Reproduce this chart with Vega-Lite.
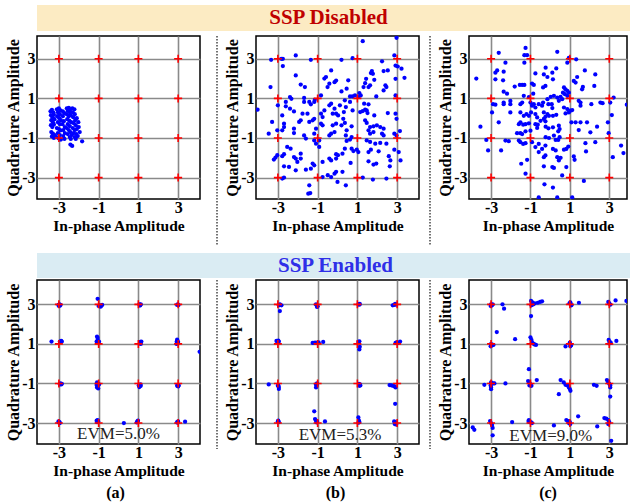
{
"$schema":"https://vega.github.io/schema/vega-lite/v6.json",
"padding":{"left":4,"top":5,"right":0,"bottom":0},
"background":"#ffffff",
"datasets":{
"ref":[{"x":-3,"y":-3},{"x":-3,"y":-1},{"x":-3,"y":1},{"x":-3,"y":3},{"x":-1,"y":-3},{"x":-1,"y":-1},{"x":-1,"y":1},{"x":-1,"y":3},{"x":1,"y":-3},{"x":1,"y":-1},{"x":1,"y":1},{"x":1,"y":3},{"x":3,"y":-3},{"x":3,"y":-1},{"x":3,"y":1},{"x":3,"y":3}],
"ta":[{"x":-3.42,"y":0.35},{"x":-3.35,"y":0.42},{"x":-3.28,"y":0.3},{"x":-3.4,"y":0.15},{"x":-3.32,"y":0.05},{"x":-3.25,"y":0.18},{"x":-3.38,"y":-0.1},{"x":-3.3,"y":-0.2},{"x":-3.22,"y":-0.05},{"x":-3.4,"y":-0.35},{"x":-3.33,"y":-0.45},{"x":-3.25,"y":-0.32},{"x":-3.38,"y":-0.7},{"x":-3.3,"y":-0.78},{"x":-3.2,"y":-0.85},{"x":-3.35,"y":-0.92},{"x":-3.25,"y":-1.0},{"x":-3.12,"y":-0.95},{"x":-3.1,"y":0.45},{"x":-3.0,"y":0.5},{"x":-2.92,"y":0.4},{"x":-3.05,"y":0.3},{"x":-2.95,"y":0.2},{"x":-3.08,"y":0.1},{"x":-2.98,"y":0.0},{"x":-2.9,"y":-0.1},{"x":-3.05,"y":-0.2},{"x":-2.95,"y":-0.3},{"x":-3.1,"y":-0.5},{"x":-3.0,"y":-0.55},{"x":-2.92,"y":-0.62},{"x":-3.05,"y":-0.75},{"x":-2.95,"y":-0.85},{"x":-3.0,"y":-1.02},{"x":-2.9,"y":-1.08},{"x":-2.8,"y":0.35},{"x":-2.72,"y":0.25},{"x":-2.8,"y":0.1},{"x":-2.75,"y":-0.15},{"x":-2.82,"y":-0.3},{"x":-2.7,"y":-0.45},{"x":-2.78,"y":-0.6},{"x":-2.7,"y":-0.75},{"x":-2.78,"y":-0.9},{"x":-2.72,"y":-1.05},{"x":-2.6,"y":0.5},{"x":-2.5,"y":0.52},{"x":-2.42,"y":0.45},{"x":-2.55,"y":0.38},{"x":-2.45,"y":0.3},{"x":-2.6,"y":0.2},{"x":-2.5,"y":0.1},{"x":-2.4,"y":0.15},{"x":-2.58,"y":-0.05},{"x":-2.48,"y":-0.12},{"x":-2.38,"y":-0.2},{"x":-2.55,"y":-0.3},{"x":-2.45,"y":-0.4},{"x":-2.6,"y":-0.5},{"x":-2.5,"y":-0.6},{"x":-2.42,"y":-0.7},{"x":-2.55,"y":-0.8},{"x":-2.45,"y":-0.95},{"x":-2.35,"y":-0.85},{"x":-2.4,"y":-1.05},{"x":-2.32,"y":0.5},{"x":-2.22,"y":0.45},{"x":-2.3,"y":0.3},{"x":-2.2,"y":0.2},{"x":-2.28,"y":0.05},{"x":-2.18,"y":-0.1},{"x":-2.25,"y":-0.25},{"x":-2.15,"y":-0.35},{"x":-2.3,"y":-0.5},{"x":-2.2,"y":-0.6},{"x":-2.1,"y":-0.55},{"x":-2.25,"y":-0.75},{"x":-2.12,"y":-0.8},{"x":-2.2,"y":-0.95},{"x":-2.05,"y":-0.9},{"x":-2.15,"y":-1.05},{"x":-2.0,"y":-0.45},{"x":-1.95,"y":-0.7},{"x":-2.02,"y":-0.2},{"x":-2.1,"y":0.0},{"x":-2.42,"y":-1.33},{"x":-2.33,"y":-1.4},{"x":-1.83,"y":-1.17}],
"tb":[{"x":-3.34,"y":2.95},{"x":-2.83,"y":3.0},{"x":-2.75,"y":3.0},{"x":-2.75,"y":2.63},{"x":-2.1,"y":3.17},{"x":-1.34,"y":2.95},{"x":-3.37,"y":1.57},{"x":-2.1,"y":2.16},{"x":-1.85,"y":1.7},{"x":-1.64,"y":1.57},{"x":-0.32,"y":2.41},{"x":-0.58,"y":2.08},{"x":-0.66,"y":2.0},{"x":-0.41,"y":1.74},{"x":-0.15,"y":1.82},{"x":-0.07,"y":1.9},{"x":-0.5,"y":1.57},{"x":-0.83,"y":1.15},{"x":-4.02,"y":0.43},{"x":-3.0,"y":0.65},{"x":-2.6,"y":0.82},{"x":-2.39,"y":1.07},{"x":-2.32,"y":0.98},{"x":-2.6,"y":0.6},{"x":-2.39,"y":0.48},{"x":-2.19,"y":0.34},{"x":-1.68,"y":1.02},{"x":-1.68,"y":0.82},{"x":-1.42,"y":0.82},{"x":-1.34,"y":0.7},{"x":-1.17,"y":0.82},{"x":-1.14,"y":0.93},{"x":-2.78,"y":0.14},{"x":-3.29,"y":-0.19},{"x":-2.69,"y":-0.28},{"x":-2.69,"y":-0.45},{"x":-2.78,"y":-0.61},{"x":-2.19,"y":-0.53},{"x":-2.19,"y":-0.75},{"x":-3.46,"y":-0.78},{"x":-3.03,"y":-0.61},{"x":-1.93,"y":-0.19},{"x":-1.85,"y":-0.11},{"x":-1.76,"y":0.23},{"x":-1.42,"y":-0.19},{"x":-1.51,"y":0.23},{"x":-1.25,"y":-0.11},{"x":-1.17,"y":-0.03},{"x":-0.83,"y":0.23},{"x":-0.75,"y":0.06},{"x":-0.66,"y":0.39},{"x":-0.32,"y":0.73},{"x":-0.41,"y":0.65},{"x":-0.15,"y":0.48},{"x":-0.24,"y":0.23},{"x":-0.07,"y":0.23},{"x":-0.83,"y":-0.28},{"x":-0.75,"y":-0.36},{"x":-0.24,"y":-0.36},{"x":-0.07,"y":-0.28},{"x":-1.08,"y":-0.53},{"x":-1.17,"y":-0.78},{"x":-0.41,"y":-0.87},{"x":-0.32,"y":-0.78},{"x":-0.15,"y":-0.7},{"x":-1.68,"y":-0.87},{"x":-1.59,"y":-1.03},{"x":-1.17,"y":-1.12},{"x":-0.92,"y":-1.12},{"x":-1.08,"y":-1.29},{"x":-0.92,"y":-1.45},{"x":-2.53,"y":-1.45},{"x":-2.36,"y":-1.54},{"x":-1.85,"y":-1.79},{"x":-2.69,"y":-1.82},{"x":-2.78,"y":-1.92},{"x":-3.2,"y":-2.09},{"x":-3.12,"y":-1.99},{"x":-3.03,"y":-1.87},{"x":-2.19,"y":-1.96},{"x":-2.1,"y":-2.04},{"x":-2.02,"y":-2.21},{"x":-1.85,"y":-2.04},{"x":-2.69,"y":-2.43},{"x":-2.44,"y":-2.46},{"x":-2.1,"y":-2.63},{"x":-1.59,"y":-2.6},{"x":-1.34,"y":-2.55},{"x":-1.25,"y":-2.29},{"x":-1.17,"y":-2.38},{"x":-0.75,"y":-2.21},{"x":-0.41,"y":-2.04},{"x":-0.32,"y":-2.13},{"x":-0.07,"y":-2.04},{"x":-0.07,"y":-1.82},{"x":0.02,"y":-1.87},{"x":-0.49,"y":-2.88},{"x":-0.32,"y":-2.97},{"x":-0.15,"y":-2.8},{"x":-0.07,"y":-2.71},{"x":-2.78,"y":-3.05},{"x":-2.69,"y":-3.0},{"x":-0.75,"y":-2.97},{"x":-1.42,"y":-3.39},{"x":-1.37,"y":-3.78},{"x":-1.47,"y":-3.81},{"x":0.0,"y":-3.22},{"x":1.27,"y":3.89},{"x":2.97,"y":4.06},{"x":0.2,"y":2.95},{"x":0.76,"y":3.03},{"x":2.24,"y":2.87},{"x":2.86,"y":3.17},{"x":2.92,"y":2.66},{"x":3.03,"y":2.61},{"x":3.22,"y":2.5},{"x":3.37,"y":2.04},{"x":1.73,"y":2.38},{"x":1.68,"y":2.28},{"x":1.78,"y":2.24},{"x":2.32,"y":2.38},{"x":2.53,"y":2.41},{"x":1.44,"y":1.99},{"x":1.39,"y":1.77},{"x":1.31,"y":1.57},{"x":1.64,"y":1.66},{"x":1.56,"y":1.57},{"x":1.85,"y":1.94},{"x":2.41,"y":1.66},{"x":2.46,"y":1.57},{"x":2.32,"y":1.4},{"x":2.92,"y":1.99},{"x":2.92,"y":1.15},{"x":0.2,"y":1.35},{"x":0.54,"y":1.91},{"x":0.46,"y":1.49},{"x":0.63,"y":1.1},{"x":0.76,"y":1.1},{"x":0.88,"y":1.15},{"x":1.1,"y":1.27},{"x":1.17,"y":1.15},{"x":1.05,"y":1.07},{"x":1.95,"y":1.1},{"x":0.37,"y":0.9},{"x":0.63,"y":0.82},{"x":0.12,"y":0.65},{"x":0.42,"y":0.56},{"x":0.76,"y":0.39},{"x":0.32,"y":0.31},{"x":0.03,"y":0.14},{"x":1.34,"y":0.73},{"x":1.56,"y":0.7},{"x":1.14,"y":0.31},{"x":1.27,"y":0.36},{"x":1.39,"y":0.43},{"x":1.47,"y":0.39},{"x":1.51,"y":0.26},{"x":1.85,"y":0.14},{"x":2.53,"y":0.26},{"x":2.92,"y":0.23},{"x":2.97,"y":-0.03},{"x":0.29,"y":-0.03},{"x":0.37,"y":-0.24},{"x":0.2,"y":-0.36},{"x":0.71,"y":-0.41},{"x":0.46,"y":-0.61},{"x":1.39,"y":-0.11},{"x":1.47,"y":-0.24},{"x":1.64,"y":-0.45},{"x":1.81,"y":-0.41},{"x":1.98,"y":-0.36},{"x":2.15,"y":-0.45},{"x":2.32,"y":-0.53},{"x":1.56,"y":-0.61},{"x":1.64,"y":-0.78},{"x":1.81,"y":-0.7},{"x":2.24,"y":-0.78},{"x":2.32,"y":-0.87},{"x":2.86,"y":-0.78},{"x":2.97,"y":-0.87},{"x":3.14,"y":-0.65},{"x":0.42,"y":-0.87},{"x":0.63,"y":-1.08},{"x":0.46,"y":-1.15},{"x":0.71,"y":-0.95},{"x":1.47,"y":-1.12},{"x":1.64,"y":-1.2},{"x":1.9,"y":-1.29},{"x":2.15,"y":-1.25},{"x":2.46,"y":-1.29},{"x":0.71,"y":-1.54},{"x":0.8,"y":-1.66},{"x":0.97,"y":-1.59},{"x":1.05,"y":-1.71},{"x":1.56,"y":-1.71},{"x":1.68,"y":-1.59},{"x":2.07,"y":-1.67},{"x":2.86,"y":-1.59},{"x":3.08,"y":-1.71},{"x":2.58,"y":-1.92},{"x":2.66,"y":-2.13},{"x":2.63,"y":-2.43},{"x":3.17,"y":-2.13},{"x":0.37,"y":-1.54},{"x":0.25,"y":-1.79},{"x":0.66,"y":-2.26},{"x":1.56,"y":-2.18},{"x":1.81,"y":-2.34},{"x":1.95,"y":-2.29},{"x":0.25,"y":-2.71},{"x":0.42,"y":-3.39},{"x":1.27,"y":-3.0},{"x":1.78,"y":-3.1},{"x":2.46,"y":-3.05}],
"tc":[{"x":-3.75,"y":2.0},{"x":-2.61,"y":3.3},{"x":-2.27,"y":2.8},{"x":-1.25,"y":3.55},{"x":-1.31,"y":3.18},{"x":-1.17,"y":3.18},{"x":-1.31,"y":2.8},{"x":-2.78,"y":2.3},{"x":-2.69,"y":2.41},{"x":-2.78,"y":1.96},{"x":-2.36,"y":2.35},{"x":-2.39,"y":1.91},{"x":-1.8,"y":1.6},{"x":-1.54,"y":1.68},{"x":-1.42,"y":1.68},{"x":-1.31,"y":1.68},{"x":-2.36,"y":1.34},{"x":-2.19,"y":1.24},{"x":-0.75,"y":2.26},{"x":-0.32,"y":2.21},{"x":-0.92,"y":1.75},{"x":-0.83,"y":1.68},{"x":-0.36,"y":1.55},{"x":-0.24,"y":1.63},{"x":-1.34,"y":1.13},{"x":-1.08,"y":1.07},{"x":-0.86,"y":1.24},{"x":-2.9,"y":0.71},{"x":-2.78,"y":0.68},{"x":-2.36,"y":0.79},{"x":-2.36,"y":0.71},{"x":-2.02,"y":0.87},{"x":-2.02,"y":0.71},{"x":-1.51,"y":0.71},{"x":-1.42,"y":0.79},{"x":-1.0,"y":0.79},{"x":-0.92,"y":0.63},{"x":-0.83,"y":0.71},{"x":-0.75,"y":0.54},{"x":-0.58,"y":0.71},{"x":-0.41,"y":0.63},{"x":-0.36,"y":0.79},{"x":-2.95,"y":0.29},{"x":-2.02,"y":0.29},{"x":-1.51,"y":0.29},{"x":-1.34,"y":0.12},{"x":-1.2,"y":0.21},{"x":-1.08,"y":0.12},{"x":-0.97,"y":0.29},{"x":-0.75,"y":0.21},{"x":-0.66,"y":0.04},{"x":-0.32,"y":0.29},{"x":-0.24,"y":0.07},{"x":-3.54,"y":-0.43},{"x":-2.61,"y":-0.21},{"x":-1.59,"y":-0.3},{"x":-1.51,"y":-0.21},{"x":-1.37,"y":-0.33},{"x":-1.25,"y":-0.3},{"x":-1.08,"y":-0.26},{"x":-0.75,"y":-0.3},{"x":-0.63,"y":-0.33},{"x":-0.49,"y":-0.13},{"x":-0.32,"y":-0.04},{"x":-0.24,"y":-0.16},{"x":-1.68,"y":-0.76},{"x":-1.51,"y":-0.76},{"x":-1.42,"y":-0.8},{"x":-1.25,"y":-0.66},{"x":-1.0,"y":-0.63},{"x":-0.66,"y":-0.49},{"x":-3.24,"y":-1.1},{"x":-3.15,"y":-1.63},{"x":-2.49,"y":-1.63},{"x":-2.27,"y":-1.13},{"x":-2.1,"y":-1.16},{"x":-1.59,"y":-1.13},{"x":-1.51,"y":-1.21},{"x":-1.37,"y":-1.3},{"x":-1.25,"y":-1.26},{"x":-0.92,"y":-1.21},{"x":-0.58,"y":-1.3},{"x":-0.24,"y":-1.38},{"x":-0.75,"y":-1.46},{"x":-0.58,"y":-1.71},{"x":-0.41,"y":-1.55},{"x":-0.24,"y":-1.88},{"x":-1.17,"y":-2.1},{"x":-1.47,"y":-2.3},{"x":-0.32,"y":-1.97},{"x":-0.32,"y":-2.43},{"x":-1.25,"y":-2.8},{"x":-0.29,"y":-3.34},{"x":-0.58,"y":-4.0},{"x":0.36,"y":3.35},{"x":0.87,"y":2.8},{"x":0.95,"y":3.05},{"x":1.32,"y":2.97},{"x":-0.23,"y":2.55},{"x":0.31,"y":2.51},{"x":-0.14,"y":2.08},{"x":0.11,"y":2.3},{"x":0.14,"y":1.96},{"x":1.76,"y":2.41},{"x":2.29,"y":2.21},{"x":1.2,"y":1.88},{"x":1.37,"y":2.08},{"x":1.29,"y":1.8},{"x":1.66,"y":1.58},{"x":1.62,"y":1.46},{"x":2.24,"y":1.63},{"x":0.7,"y":1.55},{"x":0.78,"y":1.46},{"x":0.87,"y":1.38},{"x":0.65,"y":1.29},{"x":0.75,"y":1.21},{"x":0.87,"y":1.13},{"x":0.95,"y":1.29},{"x":0.03,"y":1.08},{"x":0.19,"y":1.13},{"x":0.36,"y":1.04},{"x":0.53,"y":1.08},{"x":0.61,"y":0.96},{"x":0.44,"y":0.88},{"x":-0.14,"y":0.96},{"x":-0.09,"y":0.71},{"x":0.08,"y":0.71},{"x":0.11,"y":0.51},{"x":0.7,"y":0.54},{"x":0.87,"y":0.46},{"x":1.03,"y":0.38},{"x":1.12,"y":0.41},{"x":0.95,"y":0.29},{"x":0.78,"y":0.24},{"x":1.45,"y":0.88},{"x":1.54,"y":0.79},{"x":1.54,"y":0.63},{"x":2.09,"y":0.71},{"x":2.55,"y":0.79},{"x":2.66,"y":0.76},{"x":3.05,"y":0.79},{"x":3.22,"y":1.04},{"x":3.89,"y":0.68},{"x":3.13,"y":0.16},{"x":-0.14,"y":0.21},{"x":-0.06,"y":0.12},{"x":0.14,"y":0.12},{"x":0.31,"y":0.17},{"x":1.08,"y":-0.21},{"x":1.29,"y":-0.21},{"x":1.54,"y":-0.21},{"x":1.87,"y":-0.21},{"x":2.38,"y":-0.43},{"x":2.93,"y":-0.21},{"x":2.97,"y":-0.76},{"x":-0.23,"y":-0.43},{"x":-0.09,"y":-0.51},{"x":0.14,"y":-0.46},{"x":0.44,"y":-0.38},{"x":0.48,"y":-0.55},{"x":0.41,"y":-0.66},{"x":1.45,"y":-0.6},{"x":2.04,"y":-0.71},{"x":-0.23,"y":-0.96},{"x":-0.06,"y":-1.0},{"x":0.19,"y":-0.88},{"x":0.28,"y":-1.1},{"x":0.41,"y":-1.1},{"x":0.48,"y":-0.96},{"x":1.79,"y":-1.26},{"x":2.29,"y":-1.21},{"x":3.6,"y":-1.38},{"x":3.72,"y":-1.76},{"x":3.18,"y":-1.97},{"x":0.14,"y":-1.55},{"x":0.28,"y":-1.63},{"x":0.7,"y":-1.59},{"x":0.82,"y":-1.55},{"x":0.92,"y":-1.43},{"x":1.82,"y":-1.68},{"x":0.36,"y":-1.97},{"x":0.53,"y":-2.0},{"x":0.44,"y":-2.13},{"x":1.2,"y":-1.93},{"x":1.24,"y":-2.1},{"x":0.11,"y":-2.47},{"x":0.19,"y":-2.51},{"x":0.82,"y":-2.47},{"x":0.61,"y":-2.89},{"x":1.71,"y":-3.17},{"x":0.14,"y":-3.5},{"x":0.36,"y":-4.0},{"x":1.12,"y":-4.0}],
"ba":[{"x":-3.02,"y":2.97},{"x":-2.95,"y":2.93},{"x":-2.97,"y":3.0},{"x":-2.92,"y":2.97},{"x":-3.0,"y":2.92},{"x":-1.0,"y":2.92},{"x":-0.95,"y":2.95},{"x":-0.88,"y":2.92},{"x":-0.82,"y":2.97},{"x":-0.9,"y":2.88},{"x":-1.05,"y":3.28},{"x":1.05,"y":3.0},{"x":1.1,"y":2.97},{"x":1.12,"y":3.0},{"x":1.08,"y":2.94},{"x":2.98,"y":3.0},{"x":3.02,"y":2.96},{"x":2.95,"y":2.97},{"x":-2.95,"y":1.12},{"x":-2.88,"y":1.15},{"x":-2.92,"y":1.1},{"x":-2.85,"y":1.12},{"x":-3.37,"y":1.12},{"x":-1.08,"y":1.37},{"x":-1.05,"y":1.3},{"x":-1.05,"y":1.18},{"x":-1.1,"y":1.12},{"x":-0.98,"y":1.12},{"x":-1.02,"y":1.08},{"x":1.1,"y":1.1},{"x":1.15,"y":1.12},{"x":1.08,"y":1.03},{"x":1.12,"y":1.0},{"x":2.95,"y":1.22},{"x":2.93,"y":1.12},{"x":2.97,"y":1.05},{"x":3.0,"y":1.1},{"x":2.92,"y":1.0},{"x":4.08,"y":0.6},{"x":-2.92,"y":-1.0},{"x":-2.88,"y":-1.05},{"x":-2.95,"y":-1.05},{"x":-2.85,"y":-1.02},{"x":-1.08,"y":-0.95},{"x":-1.05,"y":-1.02},{"x":-1.1,"y":-1.08},{"x":-1.05,"y":-1.15},{"x":-1.08,"y":-1.2},{"x":-1.02,"y":-1.25},{"x":-0.98,"y":-1.05},{"x":1.02,"y":-1.1},{"x":1.08,"y":-1.13},{"x":1.12,"y":-1.12},{"x":1.05,"y":-1.18},{"x":1.1,"y":-1.05},{"x":2.95,"y":-1.12},{"x":3.0,"y":-1.15},{"x":2.97,"y":-1.08},{"x":3.03,"y":-1.1},{"x":-3.0,"y":-2.97},{"x":-2.95,"y":-3.0},{"x":-3.02,"y":-2.92},{"x":-2.97,"y":-2.95},{"x":-1.1,"y":-2.88},{"x":-1.05,"y":-2.85},{"x":-1.08,"y":-2.95},{"x":-1.02,"y":-2.92},{"x":0.27,"y":-3.0},{"x":0.95,"y":-2.92},{"x":0.92,"y":-2.97},{"x":0.98,"y":-2.88},{"x":2.95,"y":-2.95},{"x":3.0,"y":-2.92},{"x":2.97,"y":-2.98},{"x":3.35,"y":-2.93}],
"bb":[{"x":-2.95,"y":2.95},{"x":-2.88,"y":2.97},{"x":-2.82,"y":2.95},{"x":-2.9,"y":3.0},{"x":-2.9,"y":2.66},{"x":-1.08,"y":3.0},{"x":-1.03,"y":2.87},{"x":-1.05,"y":2.95},{"x":-1.0,"y":2.9},{"x":1.05,"y":3.0},{"x":1.1,"y":2.98},{"x":1.12,"y":3.02},{"x":2.78,"y":2.95},{"x":2.85,"y":2.97},{"x":2.9,"y":3.02},{"x":2.95,"y":2.98},{"x":-3.07,"y":1.15},{"x":-2.98,"y":1.17},{"x":-2.95,"y":1.12},{"x":-3.02,"y":1.1},{"x":-1.25,"y":1.05},{"x":-1.18,"y":1.05},{"x":-1.12,"y":1.07},{"x":-1.05,"y":1.05},{"x":-0.95,"y":1.08},{"x":-0.72,"y":1.1},{"x":1.05,"y":1.1},{"x":1.1,"y":1.13},{"x":1.12,"y":0.85},{"x":1.1,"y":0.72},{"x":2.92,"y":1.05},{"x":2.98,"y":1.08},{"x":3.05,"y":1.05},{"x":3.15,"y":1.12},{"x":-3.46,"y":-1.05},{"x":-2.98,"y":-1.1},{"x":-2.95,"y":-1.18},{"x":-2.95,"y":-1.28},{"x":-3.0,"y":-1.12},{"x":-1.08,"y":-1.05},{"x":-1.05,"y":-1.12},{"x":-1.08,"y":-1.2},{"x":-1.03,"y":-1.0},{"x":1.08,"y":-1.02},{"x":1.12,"y":-1.05},{"x":1.15,"y":-1.1},{"x":1.1,"y":-1.12},{"x":2.62,"y":-1.08},{"x":2.72,"y":-1.1},{"x":2.8,"y":-1.12},{"x":2.88,"y":-1.15},{"x":2.92,"y":-1.2},{"x":2.9,"y":-2.03},{"x":-2.98,"y":-2.88},{"x":-2.95,"y":-2.95},{"x":-3.0,"y":-2.92},{"x":-1.17,"y":-2.41},{"x":-1.13,"y":-2.8},{"x":-1.08,"y":-2.88},{"x":-1.03,"y":-2.92},{"x":-1.05,"y":-2.97},{"x":-0.63,"y":-2.92},{"x":1.05,"y":-2.72},{"x":1.08,"y":-2.88},{"x":1.1,"y":-2.95},{"x":1.05,"y":-2.98},{"x":2.85,"y":-2.92},{"x":2.92,"y":-2.95},{"x":2.88,"y":-3.05},{"x":2.95,"y":-3.08}],
"bc":[{"x":-3.0,"y":3.0},{"x":-2.95,"y":2.95},{"x":-2.92,"y":3.0},{"x":-3.02,"y":2.92},{"x":-2.42,"y":3.0},{"x":-2.34,"y":2.78},{"x":-0.97,"y":3.17},{"x":-0.9,"y":3.1},{"x":-0.85,"y":3.0},{"x":-0.78,"y":3.05},{"x":-0.95,"y":2.95},{"x":-0.63,"y":3.08},{"x":-0.51,"y":3.12},{"x":-0.41,"y":3.15},{"x":-0.97,"y":2.41},{"x":0.98,"y":3.05},{"x":1.05,"y":3.0},{"x":1.08,"y":2.95},{"x":1.02,"y":3.1},{"x":1.46,"y":3.08},{"x":2.95,"y":3.12},{"x":3.0,"y":3.05},{"x":3.05,"y":2.98},{"x":3.32,"y":3.2},{"x":3.87,"y":3.17},{"x":-3.0,"y":1.0},{"x":-2.95,"y":0.92},{"x":-2.88,"y":0.95},{"x":-3.02,"y":0.88},{"x":-2.71,"y":1.6},{"x":-1.78,"y":1.24},{"x":-1.0,"y":1.33},{"x":-0.95,"y":1.2},{"x":-0.92,"y":1.08},{"x":-0.85,"y":1.02},{"x":-0.8,"y":0.97},{"x":-0.72,"y":0.95},{"x":0.78,"y":0.87},{"x":1.0,"y":1.07},{"x":1.03,"y":0.95},{"x":1.02,"y":0.88},{"x":1.06,"y":0.92},{"x":2.97,"y":1.2},{"x":3.02,"y":1.12},{"x":3.08,"y":1.05},{"x":3.0,"y":1.02},{"x":3.36,"y":1.15},{"x":-3.34,"y":-1.07},{"x":-3.0,"y":-0.95},{"x":-2.9,"y":-1.0},{"x":-2.83,"y":-1.0},{"x":-3.02,"y":-1.1},{"x":-3.0,"y":-1.2},{"x":-3.0,"y":-1.29},{"x":-2.27,"y":-1.0},{"x":-1.08,"y":-0.28},{"x":-1.12,"y":-0.88},{"x":-1.05,"y":-0.97},{"x":-1.0,"y":-1.05},{"x":-0.95,"y":-1.12},{"x":-1.05,"y":-1.1},{"x":-0.68,"y":-0.83},{"x":0.44,"y":-1.54},{"x":0.53,"y":-0.83},{"x":0.69,"y":-0.95},{"x":0.78,"y":-1.07},{"x":0.88,"y":-1.1},{"x":0.95,"y":-1.2},{"x":1.0,"y":-1.28},{"x":1.03,"y":-1.37},{"x":2.22,"y":-1.07},{"x":2.36,"y":-1.12},{"x":2.88,"y":-0.83},{"x":2.95,"y":-0.95},{"x":3.0,"y":-1.02},{"x":3.05,"y":-1.1},{"x":3.05,"y":-1.2},{"x":3.05,"y":-1.66},{"x":-3.93,"y":-3.22},{"x":-3.85,"y":-3.34},{"x":-3.0,"y":-3.0},{"x":-3.05,"y":-2.9},{"x":-2.95,"y":-3.1},{"x":-2.92,"y":-3.25},{"x":-2.92,"y":-3.62},{"x":-1.93,"y":-2.95},{"x":-1.1,"y":-2.9},{"x":-1.05,"y":-2.95},{"x":-0.98,"y":-2.95},{"x":-0.92,"y":-3.0},{"x":-1.08,"y":-2.85},{"x":0.19,"y":-3.12},{"x":0.82,"y":-2.85},{"x":0.92,"y":-2.9},{"x":1.0,"y":-2.95},{"x":1.02,"y":-3.05},{"x":0.95,"y":-3.0},{"x":1.42,"y":-2.66},{"x":2.75,"y":-2.75},{"x":2.85,"y":-2.78},{"x":2.95,"y":-2.85},{"x":3.0,"y":-2.95},{"x":2.95,"y":-3.05},{"x":2.39,"y":-3.17},{"x":3.1,"y":-3.9}],
"evma":[{"t":"EVM=5.0%"}],
"evmb":[{"t":"EVM=5.3%"}],
"evmc":[{"t":"EVM=9.0%"}]
},
"spacing":4,
"vconcat":[
 {"width":593,"height":26,"view":{"fill":"#FCEBC3","stroke":null},"data":{"values":[{"t":"SSP Disabled"}]},"mark":{"type":"text","font":"Liberation Serif","fontWeight":"bold","fontSize":21,"color":"#C00000","dx":-5},"encoding":{"text":{"field":"t","type":"nominal"}}},
 {"spacing":6,"vconcat":[
  {"spacing":15,"hconcat":[
    {"width":163,"height":163,"layer":[
      {"data":{"name":"ta"},"mark":{"type":"circle","color":"#0000FF","size":18,"opacity":1,"clip":true},"encoding":{"x":{"field":"x","type":"quantitative","scale":{"domain":[-4.1,4.1],"nice":false,"zero":false},"axis":{"values":[-3,-1,1,3],"grid":true},"title":"In-phase Amplitude"},"y":{"field":"y","type":"quantitative","scale":{"domain":[-4.08,4.15],"nice":false,"zero":false},"axis":{"values":[-3,-1,1,3],"grid":true},"title":"Quadrature Amplitude"}}},
      {"data":{"name":"ref"},"mark":{"type":"point","shape":"M-1,0H1M0,-1V1","size":64,"color":"#FF0000","strokeWidth":1.6,"filled":false,"opacity":1,"clip":true},"encoding":{"x":{"field":"x","type":"quantitative"},"y":{"field":"y","type":"quantitative"}}}
    ]},
    {"spacing":9,"hconcat":[
      {"spacing":5,"hconcat":[
        {"width":1,"height":210,"view":{"stroke":null},"data":{"values":[{}]},"mark":{"type":"rule","color":"#444444","strokeWidth":1.5,"strokeDash":[1.5,1.5]},"encoding":{"x":{"datum":0,"type":"quantitative","scale":{"domain":[0,1]},"axis":null}}},
        {"width":163,"height":163,"layer":[
          {"data":{"name":"tb"},"mark":{"type":"circle","color":"#0000FF","size":18,"opacity":1,"clip":true},"encoding":{"x":{"field":"x","type":"quantitative","scale":{"domain":[-4.1,4.1],"nice":false,"zero":false},"axis":{"values":[-3,-1,1,3],"grid":true},"title":"In-phase Amplitude"},"y":{"field":"y","type":"quantitative","scale":{"domain":[-4.08,4.15],"nice":false,"zero":false},"axis":{"values":[-3,-1,1,3],"grid":true},"title":"Quadrature Amplitude"}}},
          {"data":{"name":"ref"},"mark":{"type":"point","shape":"M-1,0H1M0,-1V1","size":64,"color":"#FF0000","strokeWidth":1.6,"filled":false,"opacity":1,"clip":true},"encoding":{"x":{"field":"x","type":"quantitative"},"y":{"field":"y","type":"quantitative"}}}
        ]}
      ]},
      {"spacing":5,"hconcat":[
        {"width":1,"height":210,"view":{"stroke":null},"data":{"values":[{}]},"mark":{"type":"rule","color":"#444444","strokeWidth":1.5,"strokeDash":[1.5,1.5]},"encoding":{"x":{"datum":0,"type":"quantitative","scale":{"domain":[0,1]},"axis":null}}},
        {"width":158,"height":163,"layer":[
          {"data":{"name":"tc"},"mark":{"type":"circle","color":"#0000FF","size":18,"opacity":1,"clip":true},"encoding":{"x":{"field":"x","type":"quantitative","scale":{"domain":[-4.12,3.9],"nice":false,"zero":false},"axis":{"values":[-3,-1,1,3],"grid":true},"title":"In-phase Amplitude"},"y":{"field":"y","type":"quantitative","scale":{"domain":[-4.08,4.15],"nice":false,"zero":false},"axis":{"values":[-3,-1,1,3],"grid":true},"title":"Quadrature Amplitude"}}},
          {"data":{"name":"ref"},"mark":{"type":"point","shape":"M-1,0H1M0,-1V1","size":64,"color":"#FF0000","strokeWidth":1.6,"filled":false,"opacity":1,"clip":true},"encoding":{"x":{"field":"x","type":"quantitative"},"y":{"field":"y","type":"quantitative"}}}
        ]}
      ]}
    ]}
  ]},
  {"spacing":1,"vconcat":[
    {"width":593,"height":25,"view":{"fill":"#DAECF3","stroke":null},"data":{"values":[{"t":"SSP Enabled"}]},"mark":{"type":"text","font":"Liberation Serif","fontWeight":"bold","fontSize":21,"color":"#2F2FE8","dx":2},"encoding":{"text":{"field":"t","type":"nominal"}}},
    {"spacing":15,"hconcat":[
      {"width":163,"height":164,"title":{"text":"(a)","orient":"bottom","anchor":"middle","frame":"group","font":"Liberation Serif","fontWeight":"bold","fontSize":16,"color":"#000","offset":6,"dx":-3},"layer":[
        {"data":{"name":"ba"},"mark":{"type":"circle","color":"#0000FF","size":18,"opacity":1,"clip":true},"encoding":{"x":{"field":"x","type":"quantitative","scale":{"domain":[-4.1,4.1],"nice":false,"zero":false},"axis":{"values":[-3,-1,1,3],"grid":true},"title":"In-phase Amplitude"},"y":{"field":"y","type":"quantitative","scale":{"domain":[-4.06,4.23],"nice":false,"zero":false},"axis":{"values":[-3,-1,1,3],"grid":true},"title":"Quadrature Amplitude"}}},
        {"data":{"name":"ref"},"mark":{"type":"point","shape":"M-1,0H1M0,-1V1","size":64,"color":"#FF0000","strokeWidth":1.6,"filled":false,"opacity":1,"clip":true},"encoding":{"x":{"field":"x","type":"quantitative"},"y":{"field":"y","type":"quantitative"}}},
        {"data":{"name":"evma"},"mark":{"type":"text","font":"Liberation Serif","fontSize":17,"color":"#222222"},"encoding":{"x":{"datum":0},"y":{"datum":-3.56},"text":{"field":"t","type":"nominal"}}}
      ]},
      {"spacing":9,"hconcat":[
        {"spacing":5,"hconcat":[
          {"width":1,"height":169,"view":{"stroke":null},"data":{"values":[{}]},"mark":{"type":"rule","color":"#444444","strokeWidth":1.5,"strokeDash":[1.5,1.5]},"encoding":{"x":{"datum":0,"type":"quantitative","scale":{"domain":[0,1]},"axis":null}}},
          {"width":163,"height":164,"title":{"text":"(b)","orient":"bottom","anchor":"middle","frame":"group","font":"Liberation Serif","fontWeight":"bold","fontSize":16,"color":"#000","offset":6,"dx":-2},"layer":[
            {"data":{"name":"bb"},"mark":{"type":"circle","color":"#0000FF","size":18,"opacity":1,"clip":true},"encoding":{"x":{"field":"x","type":"quantitative","scale":{"domain":[-4.1,4.1],"nice":false,"zero":false},"axis":{"values":[-3,-1,1,3],"grid":true},"title":"In-phase Amplitude"},"y":{"field":"y","type":"quantitative","scale":{"domain":[-4.06,4.23],"nice":false,"zero":false},"axis":{"values":[-3,-1,1,3],"grid":true},"title":"Quadrature Amplitude"}}},
            {"data":{"name":"ref"},"mark":{"type":"point","shape":"M-1,0H1M0,-1V1","size":64,"color":"#FF0000","strokeWidth":1.6,"filled":false,"opacity":1,"clip":true},"encoding":{"x":{"field":"x","type":"quantitative"},"y":{"field":"y","type":"quantitative"}}},
            {"data":{"name":"evmb"},"mark":{"type":"text","font":"Liberation Serif","fontSize":17,"color":"#222222"},"encoding":{"x":{"datum":0.13},"y":{"datum":-3.59},"text":{"field":"t","type":"nominal"}}}
          ]}
        ]},
        {"spacing":5,"hconcat":[
          {"width":1,"height":169,"view":{"stroke":null},"data":{"values":[{}]},"mark":{"type":"rule","color":"#444444","strokeWidth":1.5,"strokeDash":[1.5,1.5]},"encoding":{"x":{"datum":0,"type":"quantitative","scale":{"domain":[0,1]},"axis":null}}},
          {"width":158,"height":164,"title":{"text":"(c)","orient":"bottom","anchor":"middle","frame":"group","font":"Liberation Serif","fontWeight":"bold","fontSize":16,"color":"#000","offset":6},"layer":[
            {"data":{"name":"bc"},"mark":{"type":"circle","color":"#0000FF","size":18,"opacity":1,"clip":true},"encoding":{"x":{"field":"x","type":"quantitative","scale":{"domain":[-4.12,3.9],"nice":false,"zero":false},"axis":{"values":[-3,-1,1,3],"grid":true},"title":"In-phase Amplitude"},"y":{"field":"y","type":"quantitative","scale":{"domain":[-4.06,4.23],"nice":false,"zero":false},"axis":{"values":[-3,-1,1,3],"grid":true},"title":"Quadrature Amplitude"}}},
            {"data":{"name":"ref"},"mark":{"type":"point","shape":"M-1,0H1M0,-1V1","size":64,"color":"#FF0000","strokeWidth":1.6,"filled":false,"opacity":1,"clip":true},"encoding":{"x":{"field":"x","type":"quantitative"},"y":{"field":"y","type":"quantitative"}}},
            {"data":{"name":"evmc"},"mark":{"type":"text","font":"Liberation Serif","fontSize":17,"color":"#222222"},"encoding":{"x":{"datum":0.03},"y":{"datum":-3.64},"text":{"field":"t","type":"nominal"}}}
          ]}
        ]}
      ]}
    ]}
  ]}
 ]}
],
"config":{
 "view":{"stroke":"#000000","strokeWidth":1.5},
 "axis":{"grid":true,"gridColor":"#8a8a8a","gridWidth":1.6,"gridOpacity":1,"domain":false,"ticks":false,"labelFont":"Liberation Serif","labelFontWeight":"bold","labelFontSize":16,"labelColor":"#000000","labelPadding":2,"labelExpr":"replace(datum.label,'−','-')","labelOverlap":false,"titleFont":"Liberation Serif","titleFontWeight":"bold","titleColor":"#000000"},
 "axisX":{"titleFontSize":15.5,"titlePadding":3,"labelPadding":0},
 "axisY":{"titleFontSize":16,"titlePadding":0}
}
}
